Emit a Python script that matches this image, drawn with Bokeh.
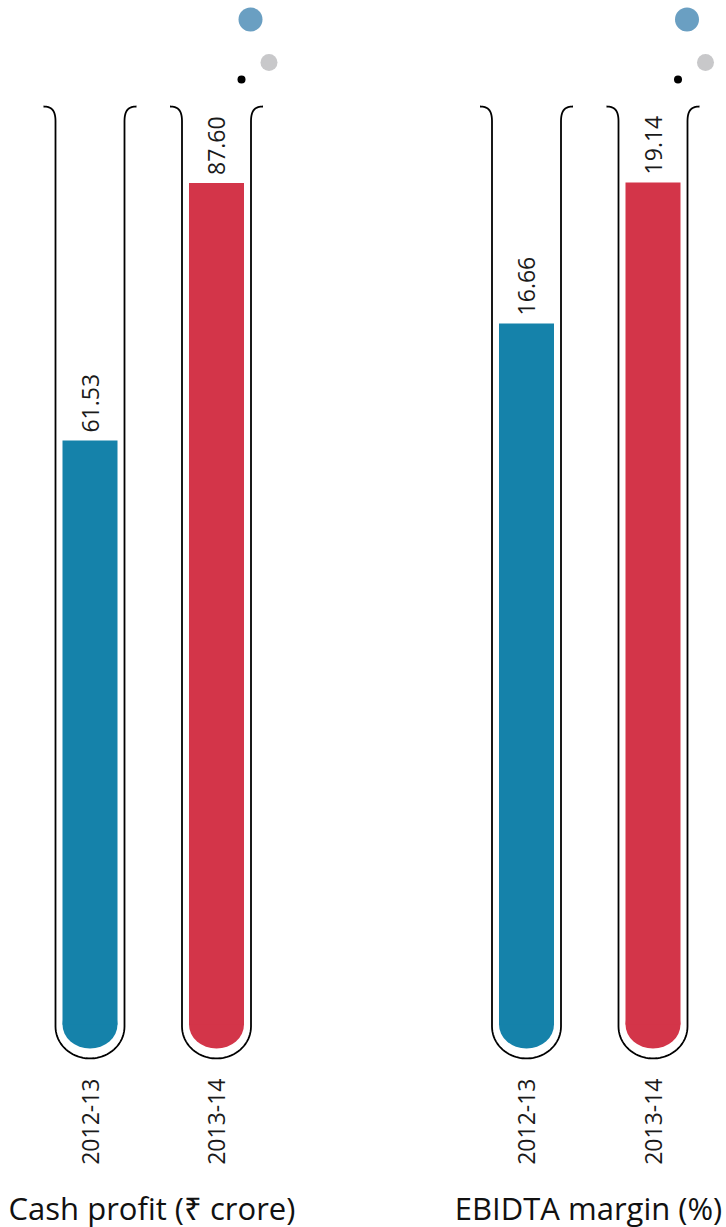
import numpy as np
from bokeh.plotting import figure
from bokeh.models import Range1d, ColumnDataSource
from bokeh.core.properties import value
from bokeh.embed import file_html
from bokeh.resources import INLINE

# ---------------- data ----------------
panel_titles = ["Cash profit (₹ crore)", "EBIDTA margin (%)"]
years = ["2012-13", "2013-14"]
cash_profit = [61.53, 87.60]
ebidta_margin = [16.66, 19.14]
bar_colors = ["#1582aa", "#d33549"]

# ---------------- layout (page pixels) ----------------
W, H = 726, 1227
TOP, BOTTOM = 0, H
LEFT, RIGHT = 0, W
PANEL_OFFSETS = [0.0, 436.5]
TUBE_CENTERS = [89.5, 216.0]
OUT_HW, FILL_HW = 34.5, 27.5
FLARE_TOP, WALL_START = 106, 121
OUT_CURVE, OUT_BOTTOM = 1026, 1058
FILL_CURVE, FILL_BOTTOM = 1024, 1048
FONT = value("Open Sans")


def make_range(v_ref, py_ref, ppu):
    return Range1d(v_ref - (BOTTOM - py_ref) / ppu, v_ref + (py_ref - TOP) / ppu)


def px_to_val(rng, py):
    return rng.start + (BOTTOM - py) / H * (rng.end - rng.start)


ranges = {
    "cash": make_range(0.0, 1048, 9.88),
    "margin": make_range(0.0, 1270, 56.85),
}
range_names = ["cash", "margin"]
series = [cash_profit, ebidta_margin]

p = figure(width=W, height=H, x_range=Range1d(LEFT, RIGHT),
           y_range=Range1d(-BOTTOM, -TOP),
           x_axis_type=None, y_axis_type=None,
           output_backend="svg", toolbar_location=None, min_border=0,
           outline_line_color=None, background_fill_color="white",
           border_fill_color="white")
p.grid.visible = False
p.extra_y_ranges = dict(ranges)


def bez(p0, p1, p2, p3, n=20):
    t = np.linspace(0, 1, n)[:, None]
    pts = ((1 - t) ** 3) * np.array(p0) + 3 * ((1 - t) ** 2) * t * np.array(p1) \
        + 3 * (1 - t) * t ** 2 * np.array(p2) + t ** 3 * np.array(p3)
    return pts[:, 0], pts[:, 1]


def tube_outline(cx):
    L, R = cx - OUT_HW, cx + OUT_HW
    xs, ys = [], []
    bx, by = bez((L - 12, FLARE_TOP), (L - 3, FLARE_TOP), (L, FLARE_TOP + 5), (L, WALL_START))
    xs += list(bx); ys += list(by)
    t = np.linspace(np.pi, 0, 40)
    xs += list(cx + OUT_HW * np.cos(t)); ys += list(OUT_CURVE + (OUT_BOTTOM - OUT_CURVE) * np.sin(t))
    bx, by = bez((R, WALL_START), (R, FLARE_TOP + 5), (R + 3, FLARE_TOP), (R + 12, FLARE_TOP))
    xs += list(bx); ys += list(by)
    return xs, [-y for y in ys]


for k in range(2):
    off = PANEL_OFFSETS[k]
    centers = [off + c for c in TUBE_CENTERS]
    rname = range_names[k]
    vals = series[k]
    src = ColumnDataSource(dict(
        x=centers, top=vals, color=bar_colors, year=years,
        label=["%.2f" % v for v in vals],
    ))
    # tube outlines
    for cx in centers:
        xs, ys = tube_outline(cx)
        p.line(xs, ys, line_color="#000000", line_width=1.8)
    # liquid: rounded bottom + bar
    p.ellipse(x=centers, y=[-FILL_CURVE] * 2, width=2 * FILL_HW,
              height=2 * (FILL_BOTTOM - FILL_CURVE), fill_color=bar_colors,
              line_color=None)
    p.vbar(x="x", top="top", bottom=px_to_val(ranges[rname], FILL_CURVE),
           width=2 * FILL_HW, fill_color="color", line_color=None,
           source=src, y_range_name=rname)
    # value labels
    p.text(x="x", y="top", text="label", angle=np.pi / 2, text_align="left",
           text_baseline="middle", y_offset=-8, text_font=FONT,
           text_font_size="23px", text_color="#1a1a1a", source=src,
           y_range_name=rname)
    # year labels
    p.text(x=centers, y=[-1078] * 2, text=years, angle=np.pi / 2,
           text_align="right", text_baseline="middle", text_font=FONT,
           text_font_size="23px", text_color="#1a1a1a")
    # panel title
    p.text(x=[off + 151.5], y=[-1207], text=[panel_titles[k]],
           text_align="center", text_baseline="middle", text_font=FONT,
           text_font_size="31px", text_color="#111111")
    # bubbles
    bc = centers[1]
    p.scatter(x=[bc + 34], y=[-19], size=24, fill_color="#6a9fc2", line_color=None)
    p.scatter(x=[bc + 52.5], y=[-62], size=17, fill_color="#c8c8ca", line_color=None)
    p.scatter(x=[bc + 25], y=[-79], size=8, fill_color="#000000", line_color=None)

open("out.html", "w").write(file_html(p, INLINE))
